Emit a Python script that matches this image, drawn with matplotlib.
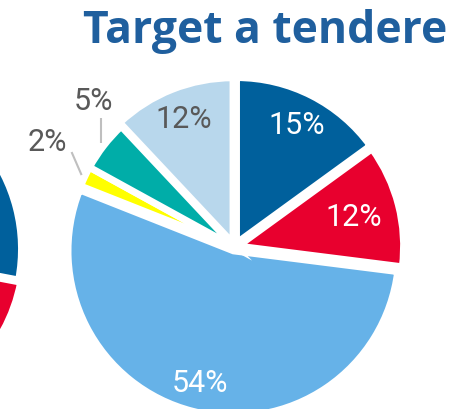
import numpy as np
import matplotlib
matplotlib.use("Agg")
import matplotlib.pyplot as plt

# ---- data ----
title = "Target a tendere"
values = [15, 12, 54, 2, 5, 12]
labels = ["15%", "12%", "54%", "2%", "5%", "12%"]
colors = ["#00609C", "#E8002E", "#66B2E8", "#FFFF00", "#00ADA8", "#B8D7EC"]

# left (cropped) neighbouring pie
left_values = [28, 20, 52]
left_colors = ["#00609C", "#E8002E", "#66B2E8"]

# ---- style ----
W, H = 467, 410
R = 165.5
center = (234.5, H - 248)
explode_px = [4.4, 3.7, 4.0, 0.0, 0.0, 4.0]
edge_lw = 5.0
text_colors = ["white", "white", "white", "#595959", "#595959", "#595959"]
label_r = [138, 123.6, 140, None, None, 138]
# leader line: start radius, line vector, label offset from line end (pixels, y up)
leaders = {4: (169, (0, 25), (-7, 18)), 3: (169, (-10, 23), (-24.5, 11))}

fig = plt.figure(figsize=(W / 100, H / 100), dpi=100)
ax = fig.add_axes([0, 0, 1, 1])

wedges, _ = ax.pie(values, colors=colors, explode=explode_px, startangle=90,
                   counterclock=False, radius=R, center=center,
                   wedgeprops=dict(edgecolor="white", linewidth=edge_lw),
                   frame=True)

# left pie
ax.pie(left_values, colors=left_colors, explode=[0.0, 3.0, 3.0], startangle=90,
       counterclock=False, radius=R, center=(-144, H - 250),
       wedgeprops=dict(edgecolor="white", linewidth=edge_lw), frame=True)
ax.set_xlim(0, W)
ax.set_ylim(0, H)
ax.set_aspect("equal")
ax.axis("off")

# labels
fracs = np.array(values) / sum(values)
ends = 90 - 360 * np.cumsum(fracs)
starts = ends + 360 * fracs
mids = np.deg2rad((starts + ends) / 2)
for i, lab in enumerate(labels):
    c, s = np.cos(mids[i]), np.sin(mids[i])
    if i in leaders:
        r0, vec, off = leaders[i]
        x0, y0 = center[0] + r0 * c, center[1] + r0 * s
        x1, y1 = x0 + vec[0], y0 + vec[1]
        ax.plot([x0, x1], [y0, y1], color="#BFBFBF", lw=1.5,
                solid_capstyle="butt")
        x, y = x1 + off[0], y1 + off[1]
    else:
        x, y = center[0] + label_r[i] * c, center[1] + label_r[i] * s
    ax.text(x, y, lab, ha="center", va="center", fontsize=22,
            color=text_colors[i], family="Roboto")

fig.text(265 / W, 1 - 43 / H, title, ha="center", va="baseline", fontsize=32,
         color="#1F5F9E", family="Open Sans", weight="bold")

fig.savefig("out.png", dpi=100)
